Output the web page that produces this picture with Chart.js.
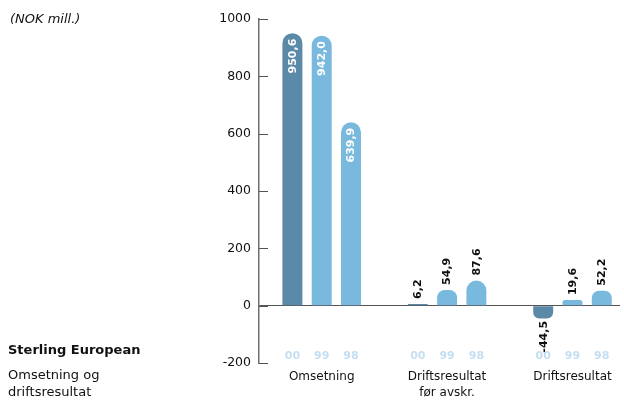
<!DOCTYPE html>
<html><head><meta charset="utf-8">
<script src="https://cdn.jsdelivr.net/npm/chart.js@4"></script>
<style>
html,body{margin:0;padding:0;background:#fff;}
#wrap{position:relative;width:624px;height:401px;overflow:hidden;font-family:"DejaVu Sans",Verdana,sans-serif;color:#111;}
canvas{position:absolute;left:0;top:0;}
.t{position:absolute;white-space:nowrap;font-size:13px;line-height:16px;}
</style></head><body>
<div id="wrap">
<canvas id="c" width="624" height="401"></canvas>
<div class="t" style="left:10px;top:11px;font-style:italic;">(NOK mill.)</div>
<div class="t" style="left:8px;top:342px;font-weight:bold;">Sterling European</div>
<div class="t" style="left:8px;top:367px;line-height:16.5px;">Omsetning og<br>driftsresultat</div>
</div>
<script>
const categories = ['Omsetning', ['Driftsresultat', 'før avskr.'], 'Driftsresultat'];
const years = ['00', '99', '98'];
const values00 = [950.6, 6.2, -44.5];
const values99 = [942.0, 54.9, 19.6];
const values98 = [639.9, 87.6, 52.2];
const yTicks = [-200, 0, 200, 400, 600, 800, 1000];

const FONT = '"DejaVu Sans", Verdana, sans-serif';
const DARK = '#5b8aa8';
const LIGHT = '#7ab9de';

function pts(arr){ return arr.map((v, i) => ({x: i, y: v})); }

const valuePlugin = {
  id: 'vals',
  afterDatasetsDraw(chart) {
    const ctx = chart.ctx;
    ctx.save();
    ctx.font = 'bold 11px ' + FONT;
    ctx.textBaseline = 'middle';
    chart.data.datasets.forEach((ds, di) => {
      const meta = chart.getDatasetMeta(di);
      meta.data.forEach((bar, i) => {
        const v = ds.data[i].y;
        const txt = v.toFixed(1).replace('.', ',');
        const h = Math.abs(bar.base - bar.y);
        const w = ctx.measureText(txt).width;
        const inside = v >= 0 && h > w + 14;
        ctx.save();
        let oy, align, col;
        if (v >= 0 && inside) { oy = bar.y + 5.5; align = 'right'; col = '#ffffff'; }
        else if (v >= 0) { oy = bar.y - 5; align = 'left'; col = '#111111'; }
        else { oy = bar.y + 2.5; align = 'right'; col = '#111111'; }
        ctx.translate(bar.x + 0.5, oy);
        ctx.rotate(-Math.PI / 2);
        ctx.textAlign = align;
        ctx.fillStyle = col;
        ctx.fillText(txt, 0, 0);
        ctx.restore();
      });
    });
    // year labels
    ctx.font = 'bold 11px ' + FONT;
    ctx.textAlign = 'center';
    ctx.fillStyle = '#c4dff1';
    chart.data.datasets.forEach((ds, di) => {
      const meta = chart.getDatasetMeta(di);
      meta.data.forEach((bar) => {
        ctx.fillText(years[di], bar.x, 356);
      });
    });
    // inward y tick marks
    const ys = chart.scales.y;
    const left = chart.chartArea.left;
    ctx.strokeStyle = '#555';
    ctx.lineWidth = 1;
    yTicks.forEach(v => {
      const y = Math.round(ys.getPixelForValue(v)) + 0.5;
      ctx.beginPath();
      ctx.moveTo(left, y);
      ctx.lineTo(left + 9, y);
      ctx.stroke();
    });
    ctx.restore();
  }
};

new Chart(document.getElementById('c'), {
  type: 'bar',
  data: {
    datasets: [
      {label: years[0], data: pts(values00), backgroundColor: DARK},
      {label: years[1], data: pts(values99), backgroundColor: LIGHT},
      {label: years[2], data: pts(values98), backgroundColor: LIGHT}
    ]
  },
  options: {
    responsive: false,
    animation: false,
    devicePixelRatio: 1,
    layout: {padding: {left: 0, right: 4, top: 19, bottom: 0}},
    plugins: {legend: {display: false}, tooltip: {enabled: false}},
    datasets: {bar: {categoryPercentage: 0.701, barPercentage: 0.682, borderRadius: 10, borderSkipped: 'start'}},
    scales: {
      x: {
        type: 'linear', min: -0.5, max: 2.379, offset: false,
        grid: {display: false, drawTicks: false, offset: false},
        border: {display: false},
        afterBuildTicks: s => { s.ticks = categories.map((c, i) => ({value: i})); },
        afterFit: s => { s.height = 38; },
        ticks: {
          padding: 5, autoSkip: false, maxRotation: 0, minRotation: 0,
          color: '#111', font: {family: FONT, size: 12, lineHeight: 1.4},
          callback: v => categories[v]
        }
      },
      y: {
        min: -200, max: 1000,
        afterBuildTicks: s => { s.ticks = yTicks.map(v => ({value: v})); },
        afterFit: s => { s.width = 259; },
        grid: {drawTicks: false, lineWidth: 1, color: c => (c.tick && c.tick.value === 0) ? '#555' : 'rgba(0,0,0,0)'},
        border: {display: true, color: '#6e6e6e', width: 1.5},
        ticks: {padding: 8, color: '#111', font: {family: FONT, size: 12.5}, callback: v => String(v)}
      }
    }
  },
  plugins: [valuePlugin]
});
</script>
</body></html>
